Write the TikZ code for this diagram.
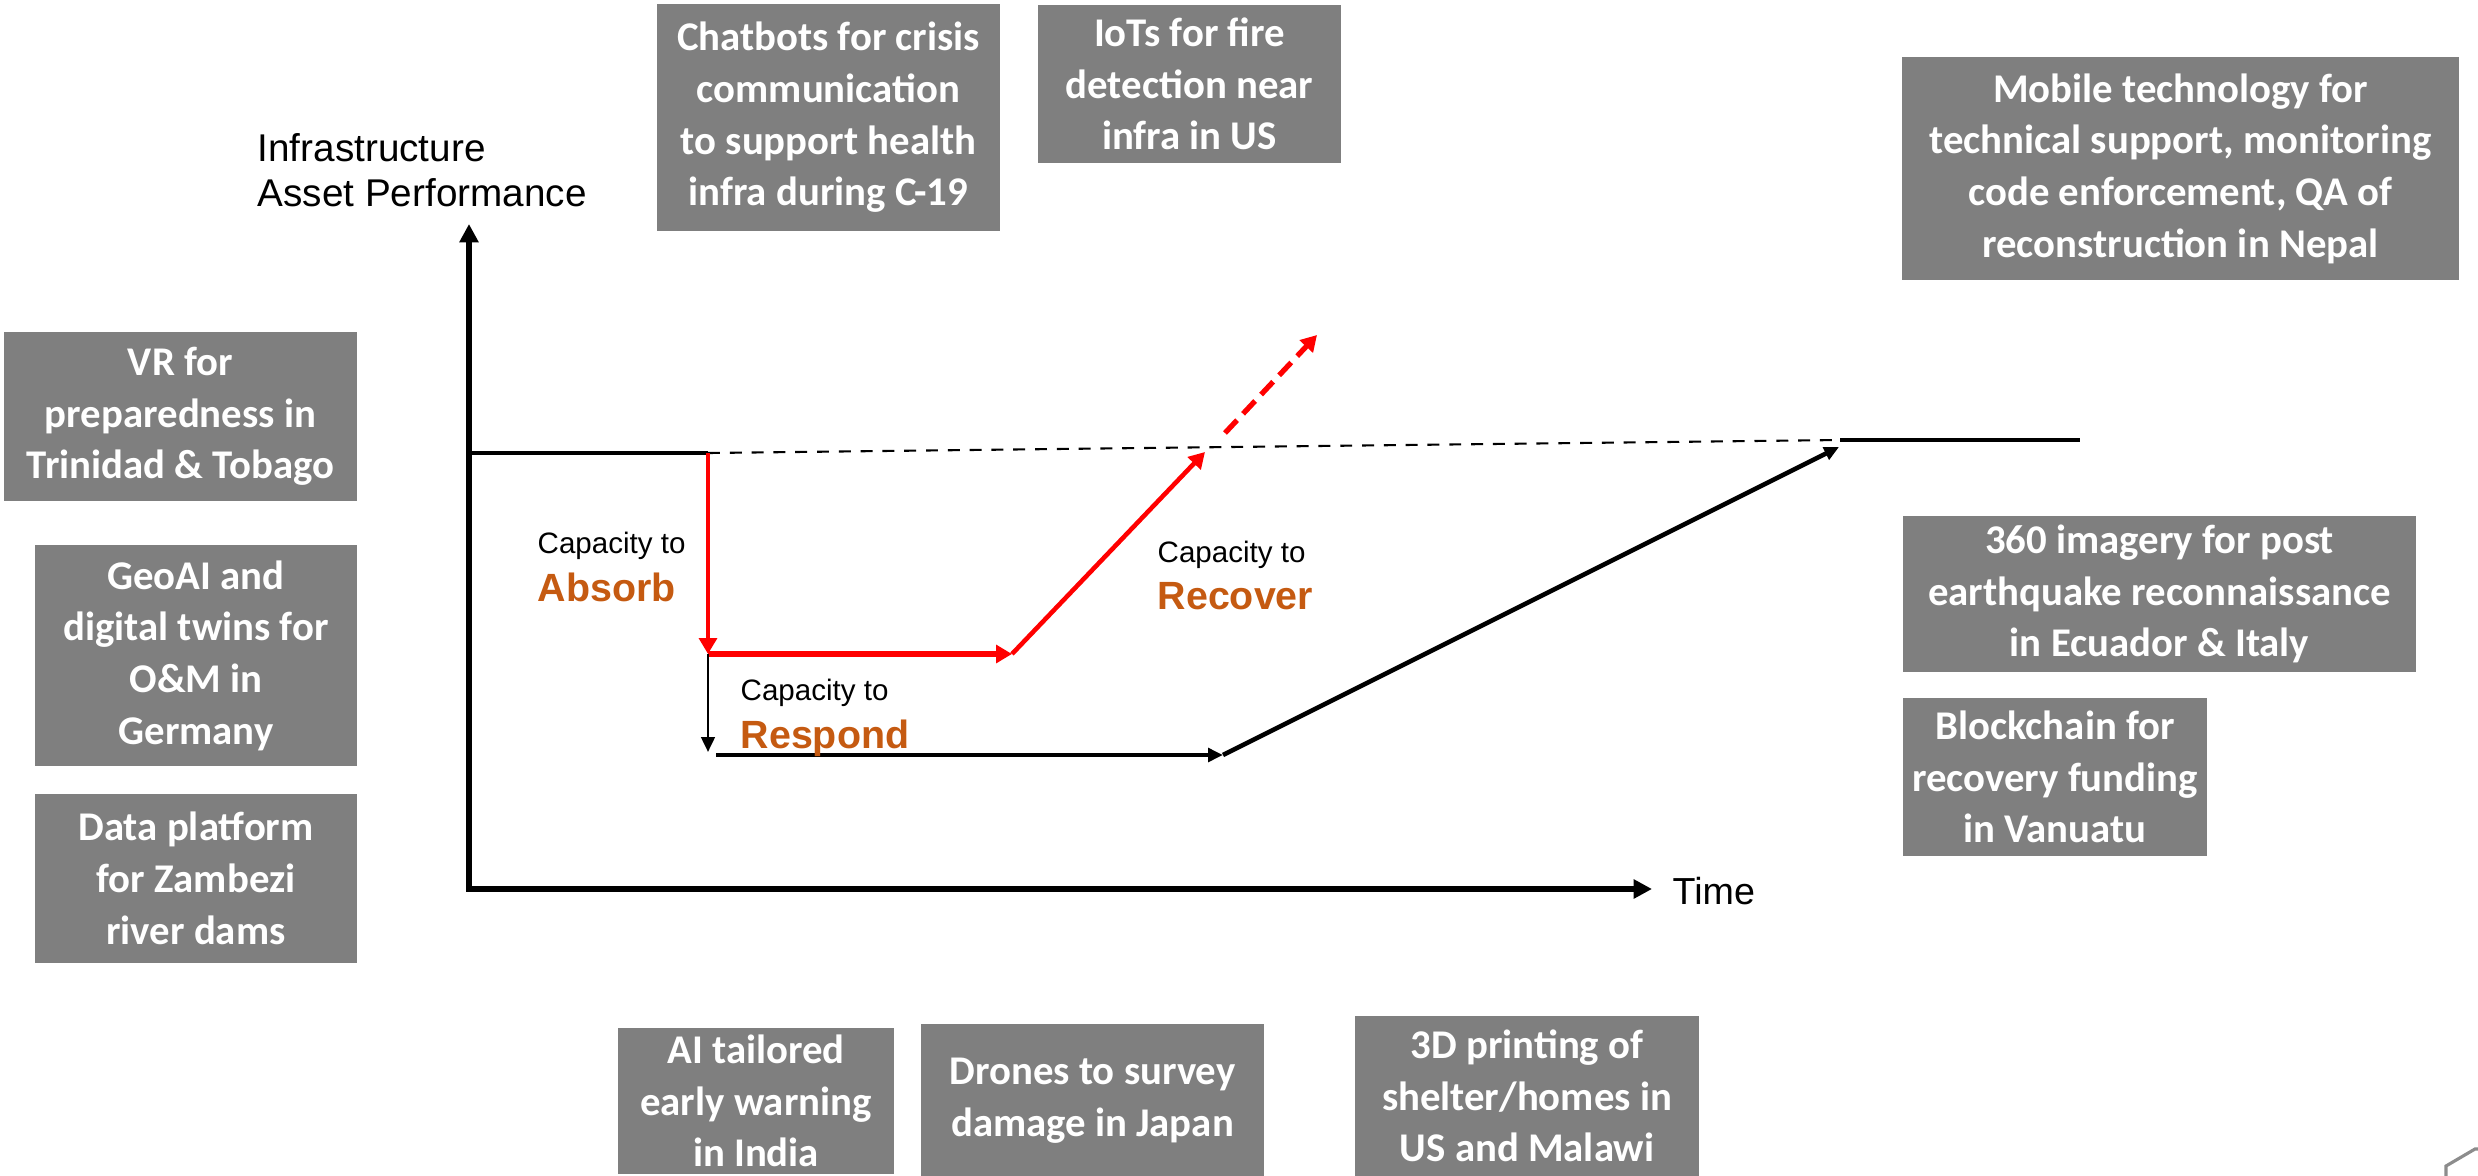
\documentclass[tikz,border=0pt]{standalone}
\usepackage{fontspec}
\setmainfont{Liberation Sans}
\newfontfamily\boxfont{Carlito}
\usetikzlibrary{arrows.meta}
\definecolor{boxgray}{HTML}{7F7F7F}
\definecolor{caporange}{HTML}{C55A11}
\definecolor{pathred}{HTML}{FF0000}
\tikzset{
  techbox/.style={fill=boxgray, text=white, align=center, inner sep=0pt,
    font=\boxfont\bfseries\fontsize{11.6}{14.7}\selectfont},
  axislabel/.style={inner sep=0pt, anchor=base west, font=\fontsize{11}{12.8}\selectfont},
  capsmall/.style={inner sep=0pt, anchor=base west, font=\fontsize{8.4}{10}\selectfont},
  capword/.style={inner sep=0pt, anchor=base west, text=caporange, font=\bfseries\fontsize{11.2}{13}\selectfont},
  axisline/.style={line width=1.6pt, {Triangle[length=5.2pt,width=5.2pt]}-{Triangle[length=5.2pt,width=5.2pt]}},
  flatline/.style={line width=1.4pt},
  redline/.style={draw=pathred, line width=1.3pt, -{Triangle[length=4.5pt,width=5pt]}},
  blackline/.style={line width=1.3pt, -{Triangle[length=4.2pt,width=3.8pt]}},
}
\begin{document}
\begin{tikzpicture}[x=0.01cm, y=-0.01cm]
\useasboundingbox (0,0) rectangle (2478,1176);
\clip (0,0) rectangle (2478,1176);

\node[techbox, minimum width=3.43cm, minimum height=2.27cm] (chatbot) at (828.5,117.5) {Chatbots for crisis\\communication\\to support health\\infra during C-19};
\node[techbox, minimum width=3.03cm, minimum height=1.58cm] (iot) at (1189.5,84) {IoTs for fire\\detection near\\infra in US};
\node[techbox, minimum width=5.57cm, minimum height=2.23cm] (mobile) at (2180.5,168.5) {Mobile technology for\\technical support, monitoring\\code enforcement, QA of\\reconstruction in Nepal};
\node[techbox, minimum width=3.53cm, minimum height=1.69cm] (vr) at (180.5,416.5) {VR for\\preparedness in\\Trinidad \& Tobago};
\node[techbox, minimum width=3.22cm, minimum height=2.21cm] (geoai) at (196,655.5) {GeoAI and\\digital twins for\\O\&M in\\Germany};
\node[techbox, minimum width=3.22cm, minimum height=1.69cm] (zambezi) at (196,878.5) {Data platform\\for Zambezi\\river dams};
\node[techbox, minimum width=5.13cm, minimum height=1.56cm] (imagery) at (2159.5,594) {360 imagery for post\\earthquake reconnaissance\\in Ecuador \& Italy};
\node[techbox, minimum width=3.04cm, minimum height=1.58cm] (blockchain) at (2055,777) {Blockchain for\\recovery funding\\in Vanuatu};
\node[techbox, minimum width=2.76cm, minimum height=1.46cm] (aiwarn) at (756,1101) {AI tailored\\early warning\\in India};
\node[techbox, minimum width=3.43cm, minimum height=1.54cm] (drones) at (1092.5,1101) {Drones to survey\\damage in Japan};
\node[techbox, minimum width=3.44cm, minimum height=1.60cm] (printing) at (1527,1096) {3D printing of\\shelter/homes in\\US and Malawi};

\coordinate (origin) at (469,889);
\coordinate (ytip) at (469,224);
\coordinate (xtip) at (1652,889);
\coordinate (normal) at (469,453);
\coordinate (hit) at (708,453);
\coordinate (absorbed) at (708,654);
\coordinate (redturn) at (1012,654);
\coordinate (redback) at (1205,452);
\coordinate (redgo) at (1225,433);
\coordinate (redtip) at (1317,335);
\coordinate (lowdrop) at (708,752);
\coordinate (lowstart) at (716,755);
\coordinate (lowturn) at (1223,755);
\coordinate (rejoin) at (1839,447);
\coordinate (restored) at (1840,440);
\coordinate (steady) at (2080,440);

\draw[axisline] (ytip) -- (origin) -- (xtip);
\draw[flatline] (normal) -- (hit);
\draw[line width=0.6pt, dash pattern=on 3.4pt off 2.8pt] (hit) -- (restored);
\draw[flatline] (restored) -- (steady);
\draw[redline] (hit) -- (absorbed);
\draw[redline, line width=1.7pt] (absorbed) -- (redturn);
\draw[redline] (redturn) -- (redback);
\draw[redline, line width=1.5pt, dash pattern=on 5pt off 2.5pt] (redgo) -- (redtip);
\draw[blackline, line width=0.8pt] (absorbed) -- (lowdrop);
\draw[blackline] (lowstart) -- (lowturn);
\draw[blackline] (lowturn) -- (rejoin);

\node[axislabel] (perfa) at (257,162) {Infrastructure};
\node[axislabel] (perfb) at (257,207) {Asset Performance};
\node[axislabel, font=\fontsize{10.7}{12}\selectfont] (timelabel) at (1672,904) {Time};

\node[capsmall] (absorbcap) at (537,553) {Capacity to};
\node[capword] (absorbword) at (537,601) {Absorb};
\node[capsmall] (respondcap) at (740,700) {Capacity to};
\node[capword] (respondword) at (740,748) {Respond};
\node[capsmall] (recovercap) at (1157,562) {Capacity to};
\node[capword] (recoverword) at (1157,609) {Recover};

\draw[draw=boxgray!90, line width=0.9pt] (2446,1180) -- (2446,1166) -- (2475,1149) -- (2480,1149);
\end{tikzpicture}
\end{document}
